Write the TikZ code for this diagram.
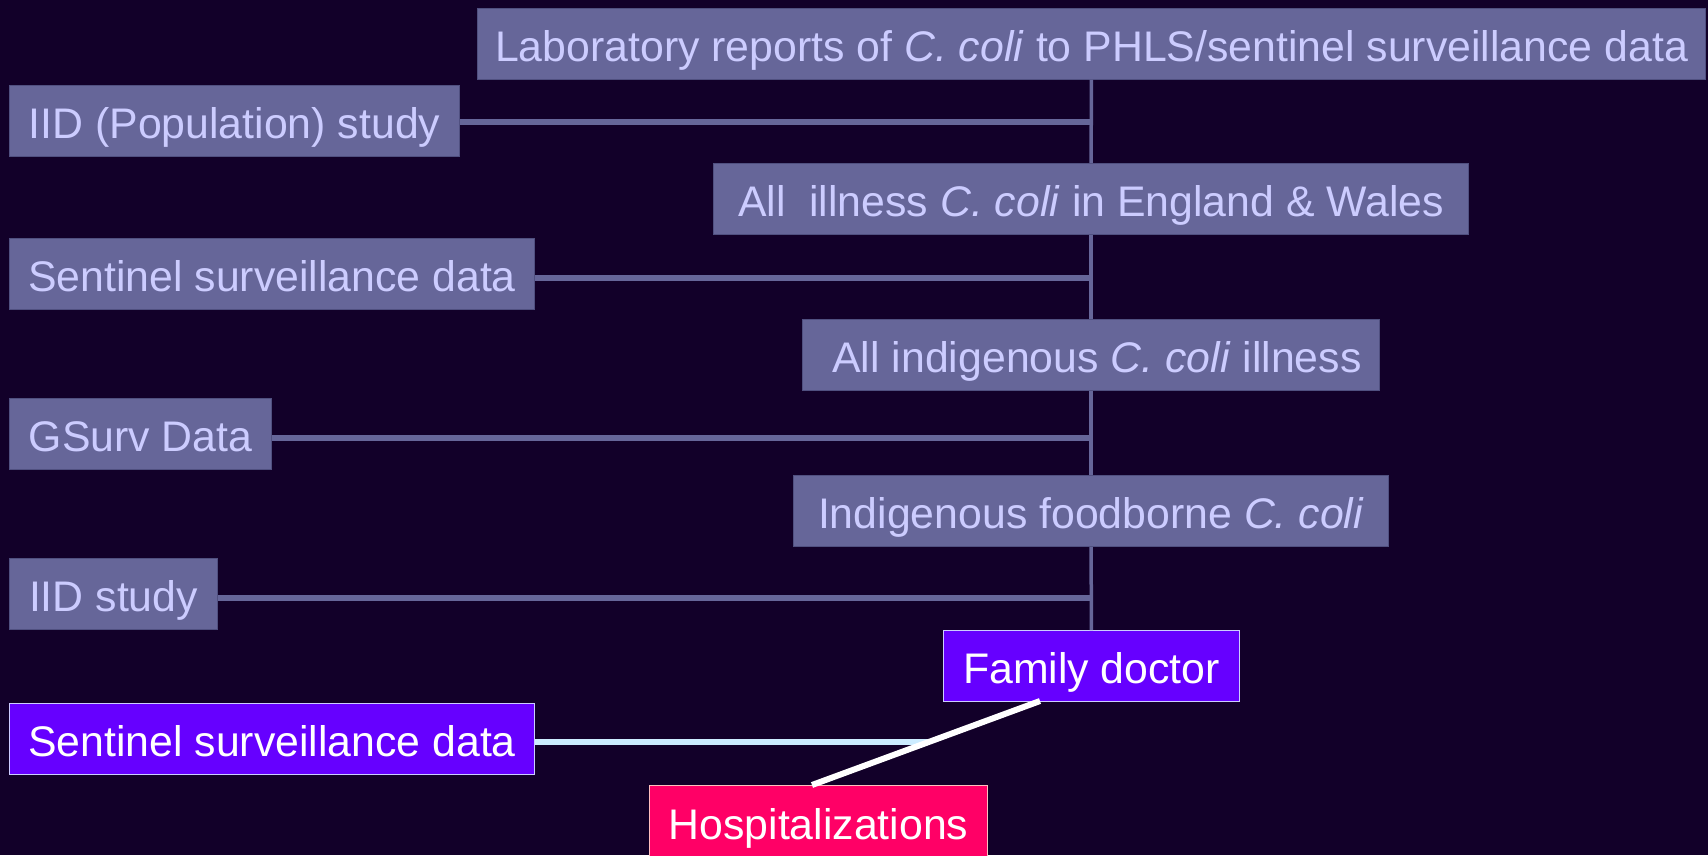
\documentclass[tikz,border=0pt]{standalone}
\usepackage{fontspec}
\setmainfont{Liberation Sans}
\usetikzlibrary{calc}
\definecolor{BackClr}{HTML}{120029}
\definecolor{BoxClr}{HTML}{666699}
\definecolor{BoxLine}{HTML}{505080}
\definecolor{BoxText}{HTML}{CCCCFF}
\definecolor{DocClr}{HTML}{6600FF}
\definecolor{HospClr}{HTML}{FF0066}
\definecolor{SkyClr}{HTML}{CCECFF}

\begin{document}
\begin{tikzpicture}[x=1pt,y=-1pt,
  every node/.style={anchor=north west,inner sep=0pt,text height=36pt,text depth=1pt,
    font=\fontsize{42.8}{48}\selectfont},
  srcbox/.style={fill=BoxClr,draw=BoxLine,line width=1pt,text=BoxText},
  hotbox/.style={draw=BoxText,line width=1pt,text=white},
  trunk/.style={draw=BoxClr,line width=3.5pt},
  feed/.style={draw=BoxClr,line width=5.5pt}]

\fill[BackClr] (0,0) rectangle (1708,855);
\useasboundingbox (0,0) rectangle (1708,855);

\node[srcbox,minimum width=1228pt,minimum height=71pt] (lab) at (477,7.5) {Laboratory reports of \textit{C. coli} to PHLS/sentinel surveillance data};
\node[srcbox,minimum width=450pt,minimum height=71pt] (iidpop) at (9,85) {IID (Population) study};
\node[srcbox,minimum width=755pt,minimum height=71pt] (illness) at (713,163) {All\ \ illness \textit{C. coli} in England \& Wales};
\node[srcbox,minimum width=525pt,minimum height=71pt] (sentinel) at (9,238) {Sentinel surveillance data};
\node[srcbox,minimum width=577pt,minimum height=71pt] (indig) at (802,319) {\ All indigenous \textit{C. coli} illness};
\node[srcbox,minimum width=262pt,minimum height=71pt] (gsurv) at (9,398) {GSurv Data};
\node[srcbox,minimum width=595pt,minimum height=71pt] (food) at (793,475) {Indigenous foodborne \textit{C. coli}\ };
\node[srcbox,minimum width=208pt,minimum height=71pt] (iid) at (9,558) {IID study};
\node[hotbox,fill=DocClr,minimum width=296pt,minimum height=71pt] (doctor) at (943,630) {Family doctor};
\node[hotbox,fill=DocClr,minimum width=525pt,minimum height=71pt] (sentinelb) at (9,703) {Sentinel surveillance data};
\node[hotbox,draw=pink,fill=HospClr,minimum width=338pt,minimum height=72pt] (hosp) at (649,785) {Hospitalizations};

\draw[trunk] (lab) -- (illness);
\draw[trunk] (illness) -- (indig);
\draw[trunk] (indig) -- (food);
\draw[trunk] (food) -- (doctor);

\draw[feed] ([yshift=-1pt]iidpop.east) -- ([yshift=-1pt]iidpop.east -| lab.south);
\draw[feed] ([yshift=-4pt]sentinel.east) -- ([yshift=-4pt]sentinel.east -| lab.south);
\draw[feed] ([yshift=-4pt]gsurv.east) -- ([yshift=-4pt]gsurv.east -| lab.south);
\draw[feed] ([yshift=-4pt]iid.east) -- ([yshift=-4pt]iid.east -| lab.south);

\coordinate (docfoot) at (1040,701);
\coordinate (hospfoot) at (812,785);
\coordinate (meet) at ($(docfoot)!0.49!(hospfoot)$);
\draw[SkyClr,line width=6pt] ([yshift=-3pt]sentinelb.east) -- ([yshift=-3pt]sentinelb.east -| meet);
\draw[white,line width=6pt] (docfoot) -- (hospfoot);

\end{tikzpicture}
\end{document}
